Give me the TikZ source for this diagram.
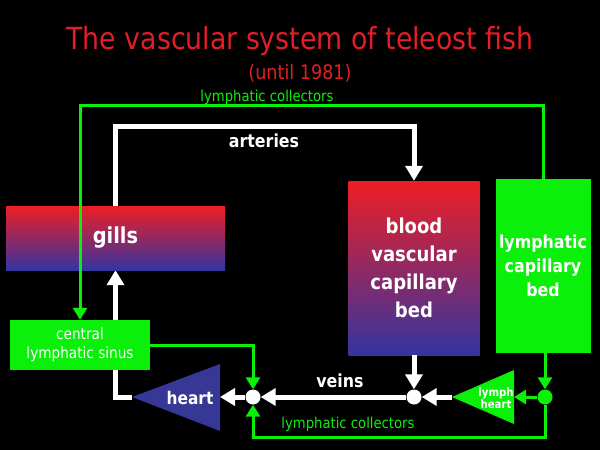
\documentclass[tikz,border=0pt]{standalone}
\usepackage{fontspec}
\setmainfont{DejaVu Sans}[FakeStretch=0.88]
\usetikzlibrary{arrows.meta,backgrounds}

\definecolor{titlered}{RGB}{228,30,38}
\definecolor{lgreen}{RGB}{10,240,10}
\definecolor{bedred}{RGB}{238,30,36}
\definecolor{bedblue}{RGB}{52,52,160}
\definecolor{heartblue}{RGB}{55,55,150}

\begin{document}
\begin{tikzpicture}
  [x=1pt,y=-1pt,
   bedbox/.style={top color=bedred,bottom color=bedblue,text=white,inner sep=0pt,align=center},
   lymphbox/.style={fill=lgreen,text=white,inner sep=0pt,align=center},
   junction/.style={circle,inner sep=0pt,minimum size=15pt},
   vessel/.style={draw=white,line width=5pt},
   collector/.style={draw=lgreen,line width=3pt},
   whitehead/.style={-{Triangle[length=15pt,width=17pt]}},
   greenhead/.style={-{Triangle[length=12pt,width=14pt]}},
   label/.style={text=white,font=\bfseries\fontsize{18}{20}\selectfont},
   caption/.style={text=lgreen,font=\fontsize{15}{17}\selectfont}]
  \begin{scope}[on background layer]
    \fill[black] (0,0) rectangle (600,450);
  \end{scope}
  \useasboundingbox (0,0) rectangle (600,450);

  % titles
  \node[text=titlered,font=\fontsize{30.4}{36}\selectfont] (title) at (300,41) {The vascular system of teleost fish};
  \node[text=titlered,font=\fontsize{20}{24}\selectfont] (subtitle) at (300,73) {(until 1981)};

  % organs
  \node[bedbox,minimum width=219pt,minimum height=64pt,font=\bfseries\fontsize{22}{24}\selectfont] (gills) at (115.5,238) {gills};
  \node[bedbox,minimum width=131pt,minimum height=174pt,font=\bfseries\fontsize{20.5}{28}\selectfont] (blood) at (414,268)
    {blood\\vascular\\capillary\\bed};
  \node[lymphbox,minimum width=95pt,minimum height=174pt,font=\bfseries\fontsize{18}{24}\selectfont] (lbed) at (543,266)
    {lymphatic\\capillary\\bed};
  \node[lymphbox,minimum width=140pt,minimum height=50pt,font=\fontsize{15.5}{19}\selectfont] (sinus) at (80,345)
    {central\\lymphatic sinus};

  % hearts
  \coordinate (hearttip) at (132,397);
  \coordinate (heartback) at (220,397);
  \fill[heartblue] (hearttip) -- (220,364) -- (220,431) -- cycle;
  \node[label,font=\bfseries\fontsize{17.5}{20}\selectfont] (heartlabel) at (190,398) {heart};
  \coordinate (lhtip) at (452,397);
  \coordinate (lhback) at (514,397);
  \fill[lgreen] (lhtip) -- (514,370) -- (514,424) -- cycle;
  \node[text=white,align=center,inner sep=0pt,font=\bfseries\fontsize{11.5}{11}\selectfont] (lhlabel) at (496,398) {lymph\\heart};

  % junctions
  \node[junction,fill=white] (j1) at (253,397) {};
  \node[junction,fill=white] (j2) at (414,397) {};
  \node[junction,fill=lgreen] (j3) at (545,397) {};

  % blood vessels
  \draw[vessel,whitehead] (gills.north) -- ++(0,-79) -| (blood.north);
  \begin{scope}[on background layer]
    \draw[vessel,whitehead] (hearttip) -| (gills.south);
  \end{scope}
  \draw[vessel,whitehead] (j1) -- (heartback);
  \draw[vessel,whitehead] (j2) -- (j1);
  \draw[vessel,whitehead] (blood.south) -- (j2);
  \draw[vessel,whitehead] (lhtip) -- (j2);
  \node[label] (arteries) at (264,141) {arteries};
  \node[label] (veins) at (340,381) {veins};

  % lymph vessels
  \draw[collector,greenhead] (lbed.north) -- ++(0,-73) -| (sinus.north);
  \draw[collector,greenhead] (lbed.south -| j3) -- (j3);
  \draw[collector,greenhead] (j3) -- (lhback);
  \draw[collector,greenhead] (j3) -- ++(0,40) -| (j1);
  \draw[collector,greenhead] (sinus.east) -| (j1);
  \node[caption] (topcoll) at (267,97) {lymphatic collectors};
  \node[caption] (botcoll) at (348,424) {lymphatic collectors};
\end{tikzpicture}
\end{document}
